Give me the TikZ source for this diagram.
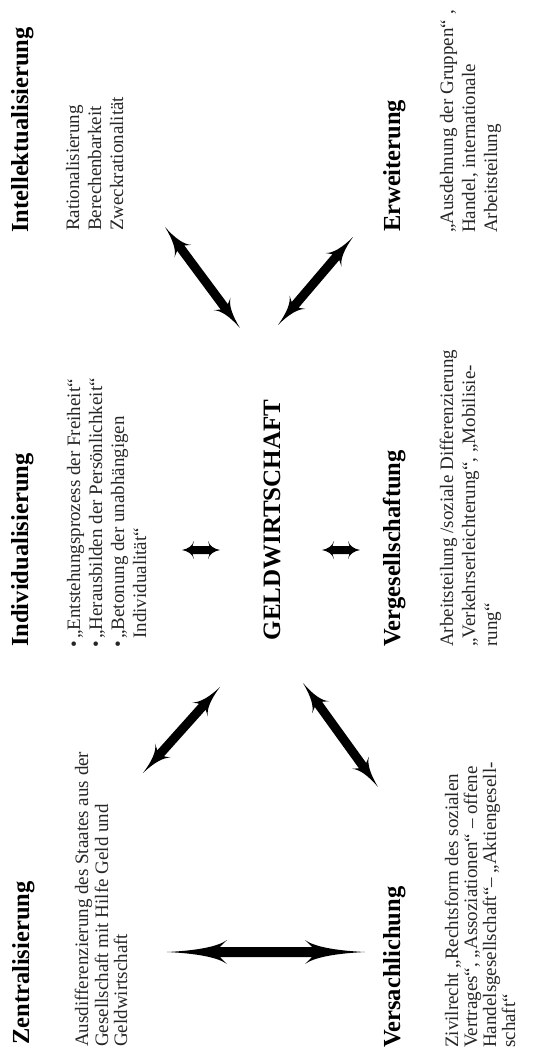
\documentclass[tikz,border=0pt]{standalone}
\usepackage{fontspec}
\setmainfont{Liberation Serif}
\usetikzlibrary{calc}
\tikzset{
  head/.style={font=\fontsize{24.5}{28}\selectfont\bfseries, rotate=90, anchor=base west, inner sep=0pt},
  body/.style={font=\fontsize{19}{22}\selectfont, text=black!85, rotate=90, anchor=base west, inner sep=0pt},
  hub/.style={font=\fontsize{25}{30}\selectfont\bfseries, rotate=90, anchor=base, inner sep=0pt},
  arrowfill/.style={fill=black}
}
% double arrow with tapered heads between two named coordinates
% #1 start, #2 end, #3 head length, #4 head half width, #5 shaft half width
\newcommand\dblarrow[5]{%
  \path let \p1=($(#2)-(#1)$) in \pgfextra{%
    \pgfmathparse{veclen(\x1,\y1)}\xdef\arrlen{\pgfmathresult}%
    \pgfmathparse{atan2(\y1,\x1)}\xdef\arrang{\pgfmathresult}};
  \fill[arrowfill, shift={(#1)}, rotate=\arrang]
    (0,0) .. controls ({0.5*#3},{0.12*#4}) and ({0.85*#3},{0.45*#4}) .. (#3,#4)
    -- ({0.88*#3},#5) -- ({\arrlen-0.88*#3},#5) -- ({\arrlen-#3},#4)
    .. controls ({\arrlen-0.85*#3},{0.45*#4}) and ({\arrlen-0.5*#3},{0.12*#4}) .. (\arrlen,0)
    .. controls ({\arrlen-0.5*#3},{-0.12*#4}) and ({\arrlen-0.85*#3},{-0.45*#4}) .. ({\arrlen-#3},{-#4})
    -- ({\arrlen-0.88*#3},{-#5}) -- ({0.88*#3},{-#5}) -- (#3,{-#4})
    .. controls ({0.85*#3},{-0.45*#4}) and ({0.5*#3},{-0.12*#4}) .. (0,0) -- cycle;
}
\begin{document}
\begin{tikzpicture}[x=1pt,y=-1pt]
\useasboundingbox (0,0) rectangle (546,1061);

% top row
\node[head] (hInt) at (28,233) {Intellektualisierung};
\node[body] (bInt1) at (79,231) {Rationalisierung};
\node[body] (bInt2) at (101,231) {Berechenbarkeit};
\node[body] (bInt3) at (123,231) {Zweckrationalität};

\node[head] (hErw) at (400,232) {Erweiterung};
\node[body] (bErw1) at (453,233) {„Ausdehnung der Gruppen“ ,};
\node[body] (bErw2) at (475,233) {Handel, internationale};
\node[body] (bErw3) at (497,233) {Arbeitsteilung};

% middle row
\node[head] (hInd) at (28,647) {Individualisierung};
\node[body] (bInd1) at (80,639) {\llap{•\hspace{2.5pt}}„Entstehungsprozess der Freiheit“};
\node[body] (bInd2) at (102,639) {\llap{•\hspace{2.5pt}}„Herausbilden der Persönlichkeit“};
\node[body] (bInd3) at (124,639) {\llap{•\hspace{2.5pt}}„Betonung der unabhängigen};
\node[body] (bInd4) at (146,639) {Individualität“};

\node[hub] (geld) at (280,520) {GELDWIRTSCHAFT};

\node[head] (hVer) at (400,647) {Vergesellschaftung};
\node[body] (bVer1) at (453,647) {Arbeitsteilung /soziale Differenzierung};
\node[body] (bVer2) at (475,647) {„Verkehrserleichterung“, „Mobilisie-};
\node[body] (bVer3) at (497,647) {rung“};

% bottom row
\node[head] (hZen) at (29,1045) {Zentralisierung};
\node[body] (bZen1) at (88,1047) {Ausdifferenzierung des Staates aus der};
\node[body] (bZen2) at (108,1047) {Gesellschaft mit Hilfe Geld und};
\node[body] (bZen3) at (127,1047) {Geldwirtschaft};

\node[head] (hVsa) at (400,1048) {Versachlichung};
\node[body] (bVsa1) at (458,1048) {Zivilrecht „Rechtsform des sozialen};
\node[body] (bVsa2) at (477,1048) {Vertrages“, „Assoziationen“ – offene};
\node[body] (bVsa3) at (496,1048) {Handelsgesellschaft“– „Aktiengesell-};
\node[body] (bVsa4) at (515,1048) {schaft“};

% arrow end points
\coordinate (a1s) at (165,227); \coordinate (a1e) at (240,328);
\coordinate (a2s) at (353,237); \coordinate (a2e) at (278,325);
\coordinate (a3s) at (143,773); \coordinate (a3e) at (220,687);
\coordinate (a4s) at (303,683); \coordinate (a4e) at (378,787);
\coordinate (s1s) at (182,550); \coordinate (s1e) at (220,550);
\coordinate (s2s) at (322,550); \coordinate (s2e) at (360,550);
\coordinate (bs) at (167,952);  \coordinate (be) at (365,952);

\dblarrow{a1s}{a1e}{30}{10.5}{4.5}
\dblarrow{a2s}{a2e}{30}{10.5}{4.5}
\dblarrow{a3s}{a3e}{30}{10.5}{4.5}
\dblarrow{a4s}{a4e}{30}{10.5}{4.5}
\dblarrow{s1s}{s1e}{12}{9}{4}
\dblarrow{s2s}{s2e}{12}{9}{4}
\dblarrow{bs}{be}{60}{12}{5}
\end{tikzpicture}
\end{document}
